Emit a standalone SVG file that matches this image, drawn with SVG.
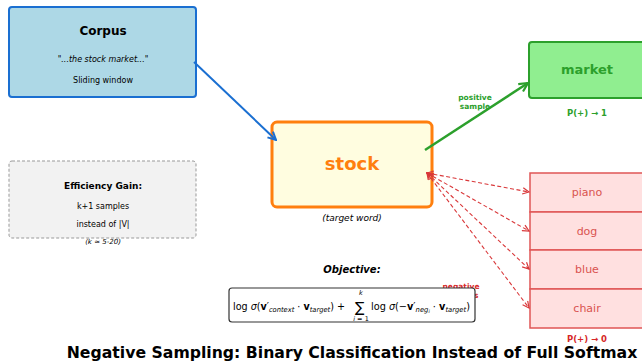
<svg xmlns="http://www.w3.org/2000/svg" width="642" height="363" viewBox="0 0 642 363">
<style>
text{font-family:"DejaVu Sans","Liberation Sans",sans-serif;}
.c{text-anchor:middle;}
.neg rect{fill:#ffe0e0;stroke:#e05555;stroke-width:1.5;}
.neg text{fill:#d9534f;font-size:11px;text-anchor:middle;}
.red{stroke:#d9383a;stroke-width:1.1;stroke-dasharray:4,2.5;fill:none;marker-end:url(#mr);marker-start:url(#mr);}
</style>
<defs>
<marker id="mb" viewBox="0 0 10 10" refX="9" refY="5" markerWidth="10" markerHeight="10" markerUnits="userSpaceOnUse" orient="auto"><path d="M1,1 L9,5 L1,9" fill="none" stroke="#1a6fd1" stroke-width="2"/></marker>
<marker id="mg" viewBox="0 0 10 10" refX="9" refY="5" markerWidth="11" markerHeight="11" markerUnits="userSpaceOnUse" orient="auto"><path d="M1,1 L9,5 L1,9" fill="none" stroke="#2ca02c" stroke-width="2"/></marker>
<marker id="mr" viewBox="0 0 10 10" refX="9" refY="5" markerWidth="8" markerHeight="8" markerUnits="userSpaceOnUse" orient="auto-start-reverse"><path d="M1,1 L9,5 L1,9" fill="none" stroke="#d9383a" stroke-width="1.5"/></marker>
</defs>
<rect width="642" height="363" fill="#ffffff"/>

<g id="corpus">
<rect x="9" y="7" width="187" height="90" rx="3" fill="#add8e6" stroke="#1a6fd1" stroke-width="2"/>
<text class="c" x="103" y="35" font-size="12" font-weight="bold">Corpus</text>
<text class="c" x="103" y="62" font-size="8" font-style="italic">"...the stock market..."</text>
<text class="c" x="103" y="83" font-size="8">Sliding window</text>
</g>

<g id="efficiency">
<rect x="9" y="161" width="187" height="77" rx="3" fill="#f2f2f2" stroke="#999999" stroke-width="1" stroke-dasharray="3,2"/>
<text class="c" x="103" y="189" font-size="9" font-weight="bold">Efficiency Gain:</text>
<text class="c" x="103" y="209" font-size="8">k+1 samples</text>
<text class="c" x="103" y="227" font-size="8">instead of |V|</text>
<text class="c" x="103" y="244" font-size="7" font-style="italic">(k ≈ 5-20)</text>
</g>

<g id="stock">
<rect x="272" y="122" width="160" height="85" rx="5" fill="#fffde0" stroke="#ff7f0e" stroke-width="3"/>
<text class="c" x="352" y="170" font-size="18" font-weight="bold" fill="#ff7f0e">stock</text>
<text class="c" x="352" y="221" font-size="9" font-style="italic">(target word)</text>
</g>

<g id="market">
<rect x="529" y="42" width="120" height="56" rx="3" fill="#90ee90" stroke="#2ca02c" stroke-width="2"/>
<text class="c" x="587" y="74" font-size="13" font-weight="bold" fill="#2ca02c">market</text>
<text class="c" x="587" y="116" font-size="8.5" font-weight="bold" fill="#2ca02c">P(+) → 1</text>
</g>

<g id="negatives" class="neg">
<rect x="530" y="173" width="120" height="39"/>
<text x="587" y="196">piano</text>
<rect x="530" y="212" width="120" height="38"/>
<text x="587" y="235">dog</text>
<rect x="530" y="250" width="120" height="39"/>
<text x="587" y="273">blue</text>
<rect x="530" y="289" width="120" height="39"/>
<text x="587" y="312">chair</text>
<text x="587" y="342" style="font-size:8.5px;font-weight:bold;fill:#d62728">P(+) → 0</text>
</g>

<g id="connectors">
<line x1="194" y1="62" x2="276" y2="140" stroke="#1a6fd1" stroke-width="2" marker-end="url(#mb)"/>
<line x1="425" y1="150" x2="528" y2="83" stroke="#2ca02c" stroke-width="2.5" marker-end="url(#mg)"/>
<text class="c" x="475" y="100" font-size="7.5" font-weight="bold" fill="#2ca02c">positive</text>
<text class="c" x="475" y="109" font-size="7.5" font-weight="bold" fill="#2ca02c">sample</text>
<line class="red" x1="427" y1="173" x2="529" y2="192"/>
<line class="red" x1="427" y1="173" x2="529" y2="231"/>
<line class="red" x1="427" y1="173" x2="529" y2="269"/>
<line class="red" x1="427" y1="173" x2="529" y2="308"/>
<text class="c" x="461" y="289" font-size="7.5" font-weight="bold" fill="#d62728">negative</text>
<text class="c" x="461" y="298" font-size="7.5" font-weight="bold" fill="#d62728">samples</text>
</g>

<g id="objective">
<text class="c" x="352" y="273" font-size="10" font-weight="bold" font-style="italic">Objective:</text>
<rect x="229" y="288" width="246" height="34" rx="3" fill="#ffffff" stroke="#333333" stroke-width="1.2"/>
<text x="233" y="310" font-size="10" textLength="112" lengthAdjust="spacingAndGlyphs">log <tspan font-style="italic">σ</tspan>(<tspan font-weight="bold">v</tspan>′<tspan font-size="7" font-style="italic" dy="2">context</tspan><tspan dy="-2"> · </tspan><tspan font-weight="bold">v</tspan><tspan font-size="7" font-style="italic" dy="2">target</tspan><tspan dy="-2">) +</tspan></text>
<text x="355" y="312" font-size="14">∑</text>
<text class="c" x="361" y="295" font-size="6.5" font-style="italic">k</text>
<text class="c" x="361" y="321" font-size="6.5"><tspan font-style="italic">i</tspan> = 1</text>
<text x="371" y="310" font-size="10" textLength="99" lengthAdjust="spacingAndGlyphs">log <tspan font-style="italic">σ</tspan>(−<tspan font-weight="bold">v</tspan>′<tspan font-size="7" font-style="italic" dy="2">neg<tspan font-size="5" dy="1">i</tspan></tspan><tspan dy="-3"> · </tspan><tspan font-weight="bold">v</tspan><tspan font-size="7" font-style="italic" dy="2">target</tspan><tspan dy="-2">)</tspan></text>
</g>

<text class="c" x="352" y="358" font-size="15.7" font-weight="bold">Negative Sampling: Binary Classification Instead of Full Softmax</text>
</svg>
